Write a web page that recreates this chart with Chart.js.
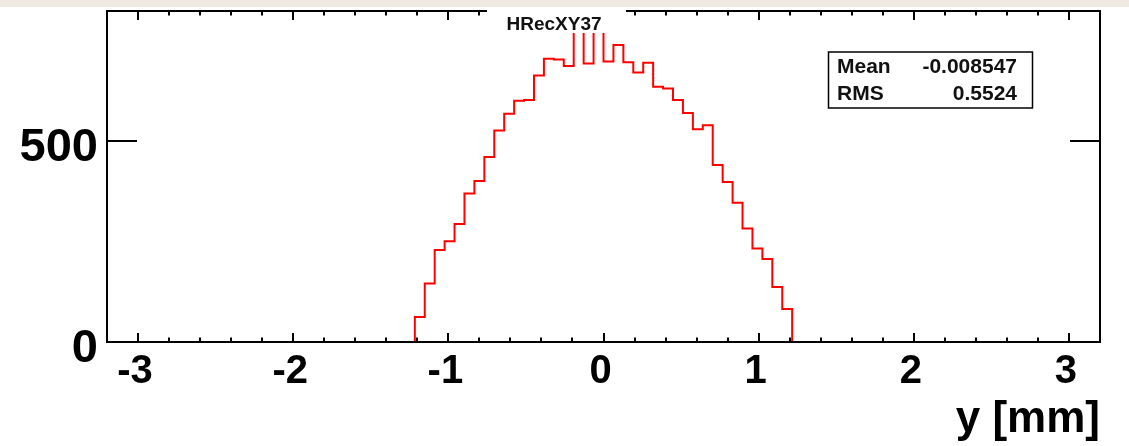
<!DOCTYPE html>
<html>
<head>
<meta charset="utf-8">
<script src="https://cdn.jsdelivr.net/npm/chart.js@4.4.0/dist/chart.umd.min.js"></script>
<style>
  html, body { margin: 0; padding: 0; background: #fff; }
  #wrap { width: 1129px; height: 446px; position: relative; }
</style>
</head>
<body>
<div id="wrap"><canvas id="hist" width="1129" height="446"></canvas></div>
<script>
// histogram HRecXY37, 100 bins from -3.2 to 3.2
const histTitle = 'HRecXY37';
const axisTitle = 'y [mm]';
const xMin = -3.2;
const xMax = 3.2;
const yMax = 825;
const binWidth = 0.064;
const firstFilledEdge = -1.216;

// bin contents (two peak bins hidden under the title box)
const counts = [
    62, 146, 229, 251, 294, 370, 401, 461, 527, 569,
    601, 603, 664, 706, 704, 688, 786, 694, 776, 699,
    740, 697, 672, 696, 636, 632, 603, 571, 530, 540,
    441, 399, 347, 283, 233, 207, 137, 82
];

const xTickValues = [-3, -2, -1, 0, 1, 2, 3];
const xTickLabels = ['-3', '-2', '-1', '0', '1', '2', '3'];
const yTickValues = [0, 500];
const yTickLabels = ['0', '500'];
const statNames = ['Mean', 'RMS'];
const statValues = ['-0.008547', '0.5524'];

const FONT = '"Liberation Sans", Arial, Helvetica, sans-serif';

function buildPoints() {
    const pts = [{ x: xMin, y: 0 }];
    counts.forEach((c, i) => {
        pts.push({ x: +(firstFilledEdge + i * binWidth).toFixed(3), y: c });
    });
    pts.push({ x: +(firstFilledEdge + counts.length * binWidth).toFixed(3), y: 0 });
    pts.push({ x: xMax, y: 0 });
    return pts;
}

const rootFrame = {
    id: 'rootFrame',
    afterDatasetsDraw(chart) {
        const ctx = chart.ctx;
        const area = chart.chartArea;
        const xs = chart.scales.x;
        const ys = chart.scales.y;
        ctx.save();

        // ticks on both sides
        ctx.strokeStyle = '#000';
        ctx.lineWidth = 2;
        ctx.beginPath();
        for (let v = -3.2; v <= 3.2001; v += 0.2) {
            const px = Math.round(xs.getPixelForValue(v));
            const major = Math.abs(v - Math.round(v)) < 1e-6;
            const len = major ? 9 : 4.5;
            ctx.moveTo(px, area.bottom);
            ctx.lineTo(px, area.bottom - len);
            ctx.moveTo(px, area.top);
            ctx.lineTo(px, area.top + len);
        }
        yTickValues.forEach(v => {
            const py = Math.round(ys.getPixelForValue(v));
            ctx.moveTo(area.left, py);
            ctx.lineTo(area.left + 30, py);
            ctx.moveTo(area.right, py);
            ctx.lineTo(area.right - 30, py);
        });
        ctx.stroke();

        // frame
        ctx.strokeRect(area.left, area.top, area.right - area.left, area.bottom - area.top);

        // title box covers the top of the frame
        ctx.fillStyle = '#fff';
        ctx.fillRect(487, 0, 139, 33);
        ctx.fillStyle = '#111';
        ctx.font = 'bold 19px ' + FONT;
        ctx.textAlign = 'center';
        ctx.textBaseline = 'alphabetic';
        ctx.fillText(histTitle, 554, 30);

        // tick labels
        ctx.fillStyle = '#000';
        ctx.font = 'bold 40px ' + FONT;
        ctx.textAlign = 'center';
        xTickValues.forEach((v, i) => {
            ctx.fillText(xTickLabels[i], xs.getPixelForValue(v) - 3, 383);
        });
        ctx.font = 'bold 47px ' + FONT;
        ctx.textAlign = 'right';
        yTickValues.forEach((v, i) => {
            ctx.fillText(yTickLabels[i], 98, ys.getPixelForValue(v) + 20);
        });

        // axis title
        ctx.font = 'bold 44px ' + FONT;
        ctx.textAlign = 'right';
        ctx.fillText(axisTitle, area.right, 432);

        // stats box
        ctx.fillStyle = '#fff';
        ctx.fillRect(828, 52, 204, 56);
        ctx.lineWidth = 1.5;
        ctx.strokeRect(828.5, 52, 204, 56);
        ctx.fillStyle = '#111';
        ctx.font = 'bold 21px ' + FONT;
        statNames.forEach((n, i) => {
            const base = 73 + i * 27;
            ctx.textAlign = 'left';
            ctx.fillText(n, 837, base);
            ctx.textAlign = 'right';
            ctx.fillText(statValues[i], 1017, base);
        });

        // beige strip along the top edge
        ctx.fillStyle = '#eeeae2';
        ctx.fillRect(0, 0, chart.width, 7);
        ctx.restore();
    }
};

new Chart(document.getElementById('hist'), {
    type: 'line',
    data: {
        datasets: [{
            data: buildPoints(),
            stepped: 'before',
            borderColor: '#ff0000',
            borderWidth: 2,
            pointRadius: 0,
            fill: false,
            tension: 0
        }]
    },
    options: {
        responsive: false,
        animation: false,
        layout: { padding: { left: 107, right: 29, top: 11, bottom: 104 } },
        scales: {
            x: { type: 'linear', min: xMin, max: xMax, display: false },
            y: { type: 'linear', min: 0, max: yMax, display: false }
        },
        plugins: {
            legend: { display: false },
            tooltip: { enabled: false }
        }
    },
    plugins: [rootFrame]
});
</script>
</body>
</html>
